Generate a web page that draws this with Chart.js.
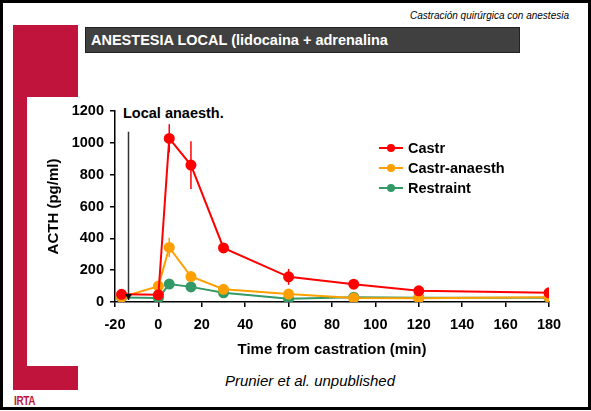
<!DOCTYPE html>
<html lang="es">
<head>
<meta charset="UTF-8">
<title>Anestesia local - ACTH</title>
<script src="https://cdn.jsdelivr.net/npm/chart.js@4.4.1/dist/chart.umd.min.js"></script>
<style>
  html, body { margin: 0; padding: 0; background: #fff; }
  body { width: 591px; height: 411px; position: relative; overflow: hidden; font-family: "Liberation Sans", Arial, sans-serif; }
  .frame { position: absolute; left: 0; top: 0; width: 585px; height: 404px; border: 3px solid #000; }
  .red { position: absolute; background: #c0143c; }
  .subtitle { position: absolute; right: 22px; top: 10px; font-size: 10px; font-style: italic; color: #000; }
  .header { position: absolute; left: 85px; top: 27px; width: 435px; height: 26px; background: #404040; border: 1px solid #222; box-sizing: border-box; color: #fff; font-weight: bold; font-size: 14.5px; line-height: 24px; padding-left: 5px; }
  .irta { position: absolute; left: 14px; top: 394px; font-size: 12.5px; font-weight: bold; color: #c0143c; letter-spacing: -0.5px; transform: scaleX(0.8); transform-origin: left; }
  .note { position: absolute; left: 123px; top: 105px; font-weight: bold; font-size: 14.5px; }
  .credit { position: absolute; left: 0; width: 620px; text-align: center; top: 372px; font-style: italic; font-size: 15px; }
  .legend { position: absolute; left: 379px; top: 138px; }
  .legend div { position: relative; height: 20px; line-height: 20px; font-weight: bold; font-size: 14.5px; padding-left: 29px; }
  .legend i { position: absolute; left: 0; top: 9px; width: 24px; height: 2px; }
  .legend b { position: absolute; left: 8px; top: 6px; width: 8px; height: 8px; border-radius: 50%; }
  #chart { position: absolute; left: 0; top: 0; }
</style>
</head>
<body>
  <div class="frame"></div>
  <!-- red L decoration -->
  <div class="red" style="left:13px; top:25px; width:65px; height:72px;"></div>
  <div class="red" style="left:13px; top:97px; width:14px; height:269px;"></div>
  <div class="red" style="left:13px; top:366px; width:65px; height:24px;"></div>
  <div class="irta">IRTA</div>

  <div class="subtitle">Castración quirúrgica con anestesia</div>
  <div class="header">ANESTESIA LOCAL (lidocaina + adrenalina</div>
  <div class="note">Local anaesth.</div>
  <div class="credit">Prunier et al. unpublished</div>

  <canvas id="chart" width="591" height="411"></canvas>
  <div class="legend" id="legend"></div>

<script>
  // sampling times (min from castration)
  const times = [-17, 0, 5, 15, 30, 60, 90, 120, 180];

  // ACTH (pg/ml) means and error bars
  const castr = [48, 45, 1028, 860, 340, 158, 112, 70, 58];
  const castrErr = [0, 0, 88, 150, 25, 50, 10, 0, 0];
  const anaesth = [30, 100, 343, 160, 80, 50, 25, 24, 30];
  const anaesthErr = [0, 0, 60, 25, 10, 0, 0, 0, 0];
  const restraint = [28, 25, 113, 95, 58, 20, 30, 27, 27];
  const restraintErr = [0, 0, 12, 22, 12, 0, 0, 0, 0];

  const seriesNames = ['Castr', 'Castr-anaesth', 'Restraint'];
  const colors = ['#ff0000', '#ffa000', '#339966'];

  // axis ranges / tick steps
  const xMin = -20, xMax = 180, xStep = 20;
  const yMin = 0, yMax = 1200, yStep = 200;

  // time of local anaesthesia (arrow)
  const anaesthTime = -14;
  const arrowTop = 1070;

  const values = [castr, anaesth, restraint];
  const errors = [castrErr, anaesthErr, restraintErr];

  const datasets = values.map((v, i) => ({
    label: seriesNames[i],
    data: times.map((t, j) => ({ x: t, y: v[j] })),
    err: errors[i],
    borderColor: colors[i],
    backgroundColor: colors[i],
    borderWidth: 2,
    pointRadius: 4.5,
    pointHoverRadius: 4.5,
    tension: 0
  }));

  // vertical error bars
  const errorBars = {
    id: 'errorBars',
    beforeDatasetsDraw(chart) {
      const { ctx, scales: { x, y } } = chart;
      ctx.save();
      chart.data.datasets.forEach(ds => {
        ctx.strokeStyle = ds.borderColor;
        ctx.lineWidth = 1.5;
        ds.data.forEach((p, j) => {
          const e = ds.err[j];
          if (!e) return;
          const px = x.getPixelForValue(p.x);
          ctx.beginPath();
          ctx.moveTo(px, y.getPixelForValue(p.y - e));
          ctx.lineTo(px, y.getPixelForValue(p.y + e));
          ctx.stroke();
        });
      });
      ctx.restore();
    }
  };

  // arrow marking the anaesthesia
  const arrow = {
    id: 'arrow',
    afterDatasetsDraw(chart) {
      const { ctx, scales: { x, y } } = chart;
      const px = Math.round(x.getPixelForValue(anaesthTime)) + 0.5;
      const top = y.getPixelForValue(arrowTop);
      const bot = y.getPixelForValue(0) - 2;
      ctx.save();
      ctx.strokeStyle = '#333';
      ctx.fillStyle = '#111';
      ctx.lineWidth = 1.5;
      ctx.beginPath();
      ctx.moveTo(px, top);
      ctx.lineTo(px, bot);
      ctx.stroke();
      ctx.beginPath();
      ctx.moveTo(px - 3.5, bot - 6);
      ctx.lineTo(px + 3.5, bot - 6);
      ctx.lineTo(px, bot);
      ctx.closePath();
      ctx.fill();
      ctx.restore();
    }
  };

  const tickFont = { family: 'Liberation Sans', size: 14.5, weight: 'bold' };
  const titleFont = { family: 'Liberation Sans', size: 15, weight: 'bold' };

  new Chart(document.getElementById('chart'), {
    type: 'line',
    data: { datasets },
    options: {
      responsive: false,
      animation: false,
      layout: { padding: { left: 44, right: 42, top: 111, bottom: 52 } },
      plugins: { legend: { display: false }, tooltip: { enabled: false } },
      scales: {
        x: {
          type: 'linear',
          min: xMin, max: xMax,
          ticks: { stepSize: xStep, color: '#000', font: tickFont, padding: 9, maxRotation: 0, callback: v => String(v) },
          grid: { drawOnChartArea: false, drawTicks: true, tickLength: 5, color: '#000', lineWidth: 1.5 },
          border: { color: '#000', width: 1.5 },
          title: { display: true, text: 'Time from castration (min)', color: '#000', font: titleFont, padding: 0 },
          afterFit(s) { s.height = 57; }
        },
        y: {
          min: yMin, max: yMax,
          ticks: { stepSize: yStep, color: '#000', font: tickFont, padding: 6, callback: v => String(v) },
          grid: { drawOnChartArea: false, drawTicks: true, tickLength: 5, color: '#000', lineWidth: 1.5 },
          border: { color: '#000', width: 1.5 },
          title: { display: true, text: 'ACTH (pg/ml)', color: '#000', font: titleFont, padding: 1 },
          afterFit(s) { s.width = 71; }
        }
      }
    },
    plugins: [errorBars, arrow]
  });

  // legend
  const legend = document.getElementById('legend');
  seriesNames.forEach((name, i) => {
    const row = document.createElement('div');
    row.innerHTML = `<i style="background:${colors[i]}"></i><b style="background:${colors[i]}"></b>${name}`;
    legend.appendChild(row);
  });
</script>
</body>
</html>
